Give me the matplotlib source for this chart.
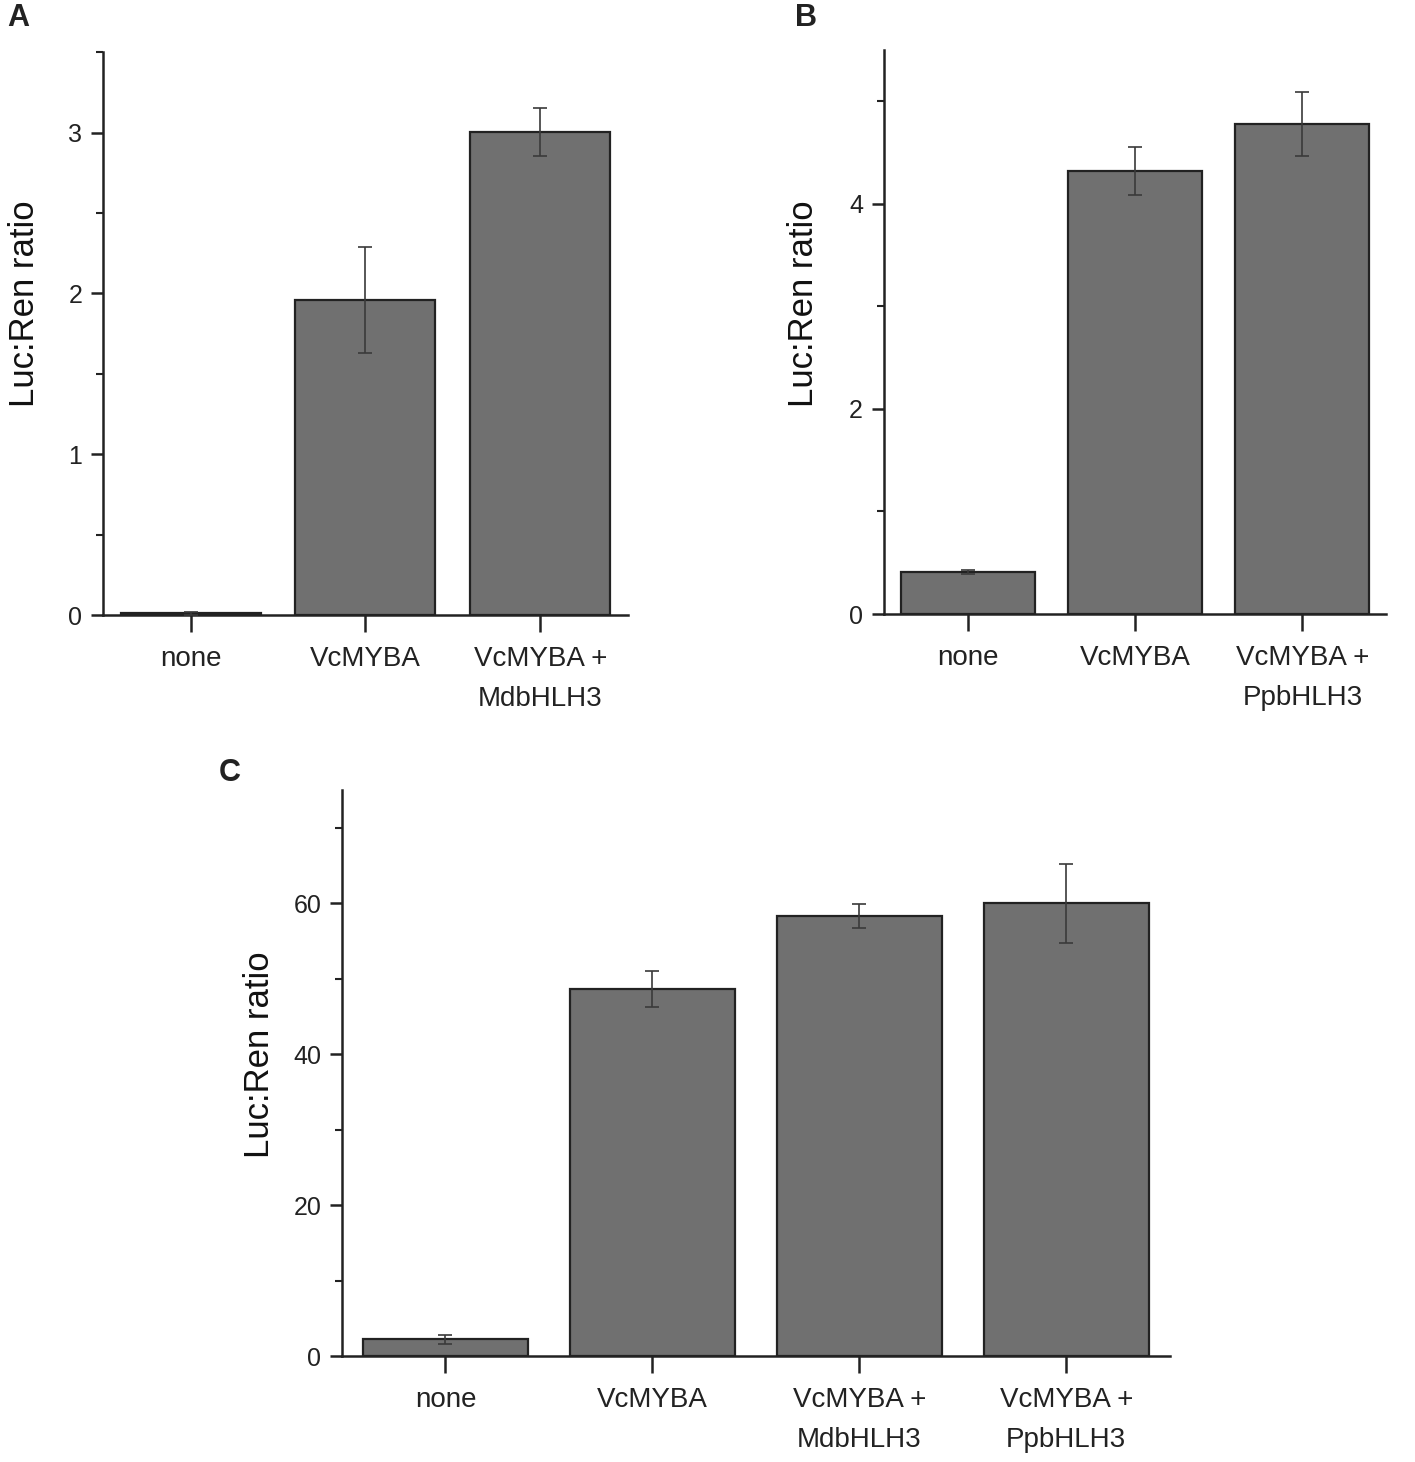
import matplotlib.pyplot as plt
from matplotlib.ticker import MultipleLocator

plt.rcParams['font.family'] = ['Liberation Sans', 'DejaVu Sans']

# panel A
labels_a = ['none', 'VcMYBA', 'VcMYBA +\nMdbHLH3']
values_a = [0.012, 1.96, 3.005]
errors_a = [0.01, 0.33, 0.15]

# panel B
labels_b = ['none', 'VcMYBA', 'VcMYBA +\nPpbHLH3']
values_b = [0.41, 4.32, 4.78]
errors_b = [0.02, 0.23, 0.31]

# panel C
labels_c = ['none', 'VcMYBA', 'VcMYBA +\nMdbHLH3', 'VcMYBA +\nPpbHLH3']
values_c = [2.25, 48.6, 58.3, 60.0]
errors_c = [0.6, 2.4, 1.6, 5.2]

bar_color = '#707070'
edge_color = '#222222'


def draw_panel(ax, labels, values, errors, ymax, major, ylab_xy):
    x = list(range(len(values)))
    ax.bar(x, values, width=0.8, color=bar_color, edgecolor=edge_color,
           linewidth=1.6, zorder=2)
    ax.errorbar(x, values, yerr=errors, fmt='none', ecolor='#3a3a3a',
                elinewidth=1.2, capsize=5, capthick=1.2, zorder=3)
    ax.set_xlim(-0.5, len(values) - 0.5)
    ax.set_ylim(0, ymax)
    ax.yaxis.set_major_locator(MultipleLocator(major))
    ax.yaxis.set_minor_locator(MultipleLocator(major / 2))
    ax.set_xticks(x)
    ax.set_xticklabels(labels, fontsize=20, linespacing=1.7, color='#111111')
    ax.spines['top'].set_visible(False)
    ax.spines['right'].set_visible(False)
    for s in ['left', 'bottom']:
        ax.spines[s].set_linewidth(1.8)
        ax.spines[s].set_color('#222222')
    ax.tick_params(axis='y', which='major', length=9, width=1.8,
                   labelsize=18, pad=6, colors='#222222')
    ax.tick_params(axis='y', which='minor', length=5, width=1.5,
                   colors='#222222')
    ax.tick_params(axis='x', which='major', length=12, width=1.8,
                   pad=10, colors='#222222')
    ax.set_ylabel('Luc:Ren ratio', fontsize=25, color='#111111')
    ax.yaxis.set_label_coords(ylab_xy[0], ylab_xy[1])


fig = plt.figure(figsize=(14.15, 14.62), dpi=100)

ax_a = fig.add_axes([0.0728, 0.5793, 0.371, 0.385])
draw_panel(ax_a, labels_a, values_a, errors_a, 3.5, 1, (-0.118, 0.554))

ax_b = fig.add_axes([0.6247, 0.580, 0.3548, 0.3858])
draw_panel(ax_b, labels_b, values_b, errors_b, 5.5, 2, (-0.128, 0.551))

ax_c = fig.add_axes([0.2417, 0.0725, 0.585, 0.387])
draw_panel(ax_c, labels_c, values_c, errors_c, 75, 20, (-0.08, 0.532))

# panel letters
fig.text(18 / 1415, 1 - 18 / 1462, 'A', fontsize=22, fontweight='bold',
         va='center', ha='center', color='#222222')
fig.text(806 / 1415, 1 - 18 / 1462, 'B', fontsize=22, fontweight='bold',
         va='center', ha='center', color='#222222')
fig.text(230 / 1415, 1 - 773 / 1462, 'C', fontsize=22, fontweight='bold',
         va='center', ha='center', color='#222222')

fig.savefig('out.png', dpi=100)
